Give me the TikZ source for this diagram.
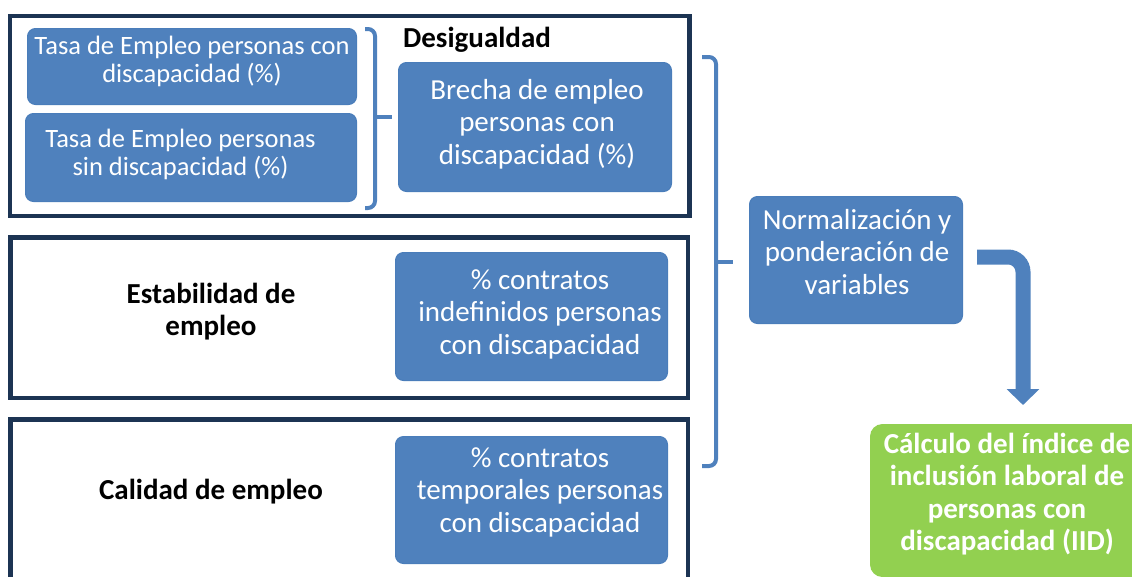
\documentclass[tikz,border=0pt]{standalone}
\usepackage{fontspec}
\setmainfont{Carlito}
\usetikzlibrary{arrows.meta}
\definecolor{boxblue}{HTML}{4F81BD}
\definecolor{boxedge}{HTML}{4A7DBA}
\definecolor{frameblue}{HTML}{1C3453}
\definecolor{limegreen}{HTML}{92D050}
\begin{document}
\begin{tikzpicture}[x=1pt,y=-1pt,
  frame/.style={draw=frameblue, line width=4.5pt, inner sep=0pt},
  bbox/.style={fill=boxblue, draw=boxedge, rounded corners=8pt, line width=1pt, inner sep=0pt},
  gbox/.style={fill=limegreen, draw=limegreen, rounded corners=12pt, line width=1pt, inner sep=0pt},
  btext/.style={text=white, align=center, inner sep=0pt, font=\fontsize{29}{32.5}\selectfont},
  stext/.style={text=white, align=center, inner sep=0pt, font=\fontsize{26.5}{28}\selectfont},
  gtext/.style={text=white, align=center, inner sep=0pt, font=\bfseries\fontsize{29}{32.5}\selectfont},
  ltext/.style={text=black, align=center, inner sep=0pt, font=\bfseries\fontsize{29}{32}\selectfont},
  brace/.style={draw=boxblue, line width=4pt, rounded corners=7pt},
  bigarrow/.style={draw=boxblue, line width=15pt, rounded corners=15pt, -{Triangle[length=16pt,width=32pt]}}]

\useasboundingbox (0,0) rectangle (1132,576);

% frames
\node[frame, minimum width=679.5pt, minimum height=200pt] (f1) at (349.75,116) {};
\node[frame, minimum width=677.5pt, minimum height=160.5pt] (f2) at (349.25,317.75) {};
\node[frame, minimum width=677.5pt, minimum height=200pt] (f3) at (349.25,519.5) {};

% frame labels
\node[ltext] (lDes) at (477,40) {Desigualdad};
\node[ltext] (lEst) at (211,312) {Estabilidad de\\empleo};
\node[ltext] (lCal) at (211,492) {Calidad de empleo};

% blue boxes
\node[bbox, minimum width=329pt, minimum height=76pt] (bA) at (192,66.5) {};
\node[stext] (tA) at (192,61) {Tasa de Empleo personas con\\discapacidad (\%)};
\node[bbox, minimum width=331pt, minimum height=88pt] (bB) at (191,157.5) {};
\node[stext] (tB) at (180.5,154) {Tasa de Empleo personas\\sin discapacidad (\%)};

\node[bbox, minimum width=273pt, minimum height=129pt] (bBr) at (535,127) {};
\node[btext] (tBr) at (537,124) {Brecha de empleo\\personas con\\discapacidad (\%)};

\node[bbox, minimum width=272pt, minimum height=128pt] (bC1) at (531.5,316.5) {};
\node[btext] (tC1) at (540,314) {\% contratos\\indefinidos personas\\con discapacidad};

\node[bbox, minimum width=272pt, minimum height=127pt] (bC2) at (531.5,500) {};
\node[btext] (tC2) at (540,492) {\% contratos\\temporales personas\\con discapacidad};

\node[bbox, minimum width=213pt, minimum height=127pt] (bN) at (856,260) {};
\node[btext] (tN) at (857,252) {Normalización y\\ponderación de\\variables};

\node[gbox, minimum width=273pt, minimum height=152pt] (bG) at (1007,500.5) {};
\node[gtext] (tG) at (1007,494) {Cálculo del índice de\\inclusión laboral de\\personas con\\discapacidad (IID)};

% braces
\coordinate (b1t) at (365,29);
\coordinate (b1b) at (365,208);
\draw[brace] (b1t) -- (375,29) -- (375,208) -- (b1b);
\draw[brace, rounded corners=0pt] (375,117) -- (392,117);

\coordinate (b2t) at (702,57);
\coordinate (b2b) at (702,466);
\draw[brace] (b2t) -- (716,57) -- (716,466) -- (b2b);
\draw[brace, rounded corners=0pt] (716,262) -- (733,262);

% bent arrow from normalization to result
\draw[bigarrow] ([shift={(14,-3)}]bN.east) -| ([shift={(16,-19)}]bG.north);
\end{tikzpicture}
\end{document}
